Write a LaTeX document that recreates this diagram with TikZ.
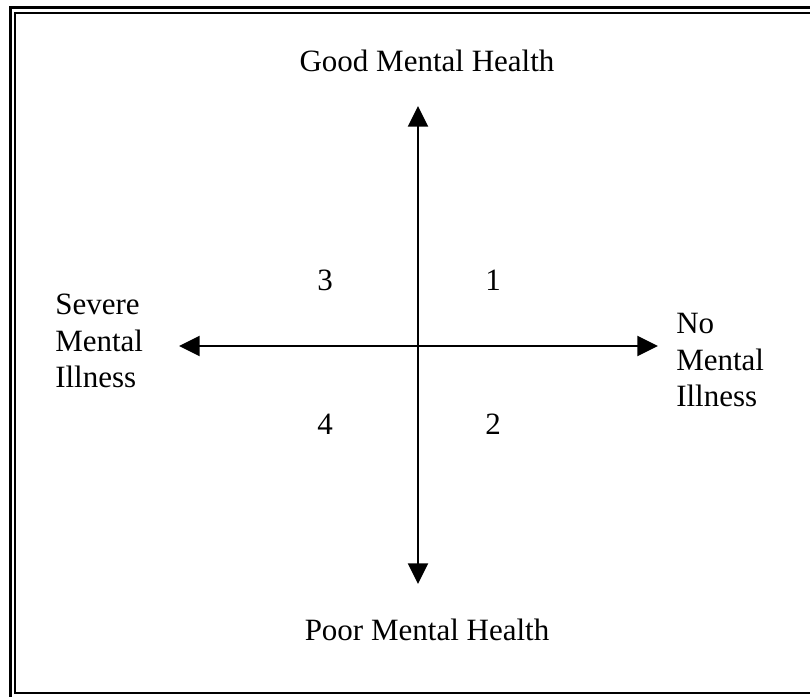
\documentclass[tikz,border=0pt]{standalone}
\usepackage{fontspec}
\setmainfont{Liberation Serif}
\usetikzlibrary{arrows.meta}

\tikzset{
  axis/.style={line width=1.5pt, {Triangle[length=15.5pt,width=15pt]}-{Triangle[length=15.5pt,width=15pt]}},
  label/.style={font=\fontsize{23.25}{27.4}\selectfont, inner sep=0pt},
  pole/.style={label, align=left, anchor=west},
  quad/.style={label},
  outerframe/.style={line width=2.4pt},
  innerframe/.style={line width=1.3pt}
}

\begin{document}
\begin{tikzpicture}[x=0.75pt, y=-0.75pt]
  \useasboundingbox (0,0) rectangle (810,696);
  \clip (0,0) rectangle (810,696);

  % double frame, running off the right and lower edges
  \draw[outerframe] (10.5,7.5) rectangle (830,720);
  \draw[innerframe] (15,13) rectangle (830,693);

  % axis end points
  \coordinate (n) at (418,106);
  \coordinate (s) at (418,584);
  \coordinate (w) at (179,346);
  \coordinate (e) at (658,346);

  \draw[axis] (s) -- (n);
  \draw[axis] (w) -- (e);

  % pole labels
  \node[label] (good) at (427,61) {Good Mental Health};
  \node[label] (poor) at (427,630) {Poor Mental Health};
  \node[pole] (severe) at (55,341) {Severe\\Mental\\Illness};
  \node[pole] (none) at (676,360) {No\\Mental\\Illness};

  % quadrant numbers
  \node[quad] (q1) at (493,280) {1};
  \node[quad] (q2) at (493,424) {2};
  \node[quad] (q3) at (325,280) {3};
  \node[quad] (q4) at (325,424) {4};
\end{tikzpicture}
\end{document}
